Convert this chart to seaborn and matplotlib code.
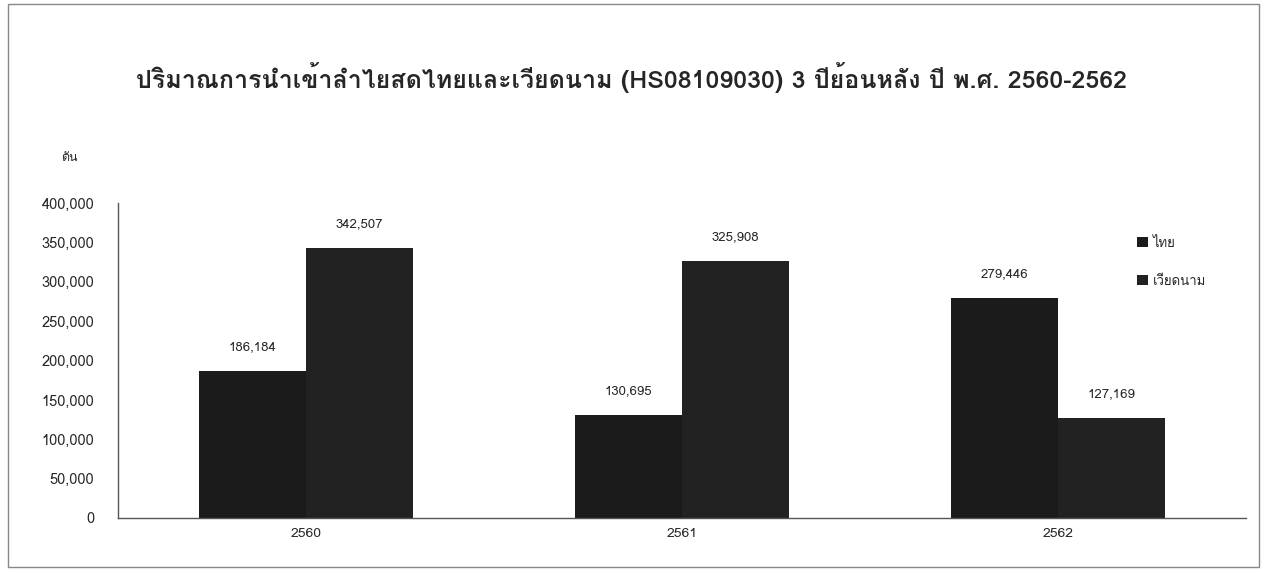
import pandas as pd
import seaborn as sns
import matplotlib.pyplot as plt
from matplotlib import font_manager
from matplotlib.ft2font import FT2Font
from matplotlib.patches import Rectangle

years = ["2560", "2561", "2562"]
thai = [186184, 130695, 279446]
vietnam = [342507, 325908, 127169]
series = ["ไทย", "เวียดนาม"]

# find an installed font that has Thai glyphs
thai_font = None
for f in font_manager.fontManager.ttflist:
    try:
        if ord("ก") in FT2Font(f.fname).get_charmap():
            thai_font = f.name
            break
    except Exception:
        pass

df = pd.DataFrame({
    "year": years * 2,
    "value": thai + vietnam,
    "country": [series[0]] * 3 + [series[1]] * 3,
})

sns.set_style("white")
fams = [thai_font, "DejaVu Sans"] if thai_font else ["DejaVu Sans"]
plt.rcParams["font.family"] = fams

fig = plt.figure(figsize=(12.64, 5.74), dpi=100)
ax = fig.add_axes([0.0934, 0.0976, 0.8924, 0.5487])

sns.barplot(data=df, x="year", y="value", hue="country", ax=ax,
            palette=["#1b1b1b", "#222222"], width=0.57, gap=0,
            saturation=1, edgecolor="none")

for c in ax.containers:
    ax.bar_label(c, labels=[f"{v:,.0f}" for v in c.datavalues],
                 padding=13, fontsize=9.5)

ax.set_ylim(0, 400000)
ax.set_xlim(-0.5, 2.5)
ax.set_yticks(range(0, 400001, 50000))
ax.set_yticklabels([f"{v:,}" for v in range(0, 400001, 50000)], fontsize=10.5)
ax.set_xticks([0, 1, 2])
ax.set_xticklabels(years, fontsize=10)
ax.set_xticks([0.5, 1.5, 2.5], minor=True)
ax.tick_params(axis="x", which="major", length=0, pad=7)
ax.tick_params(axis="x", which="minor", length=5, direction="out", color="#333333")
ax.tick_params(axis="y", length=4, direction="out", color="#333333", pad=13)
ax.set_xlabel("")
ax.set_ylabel("")
for s in ["top", "right"]:
    ax.spines[s].set_visible(False)
for s in ["left", "bottom"]:
    ax.spines[s].set_color("#555555")
    ax.spines[s].set_linewidth(1)

ax.legend(loc="upper left", bbox_to_anchor=(0.893, 0.93), frameon=False,
          fontsize=9.5, handlelength=0.8, handleheight=0.8, labelspacing=1.9,
          handletextpad=0.4)

fig.text(0.048, 0.72, "ตัน", fontsize=9)
fig.text(0.5, 0.865, "ปริมาณการนำเข้าลำไยสดไทยและเวียดนาม (HS08109030) 3 ปีย้อนหลัง ปี พ.ศ. 2560-2562",
         ha="center", va="center", fontsize=18, fontweight="bold")

fig.patches.append(Rectangle((0.006, 0.012), 0.99, 0.981, transform=fig.transFigure,
                             fill=False, edgecolor="#888888", linewidth=1))

fig.savefig("out.png", dpi=100)
